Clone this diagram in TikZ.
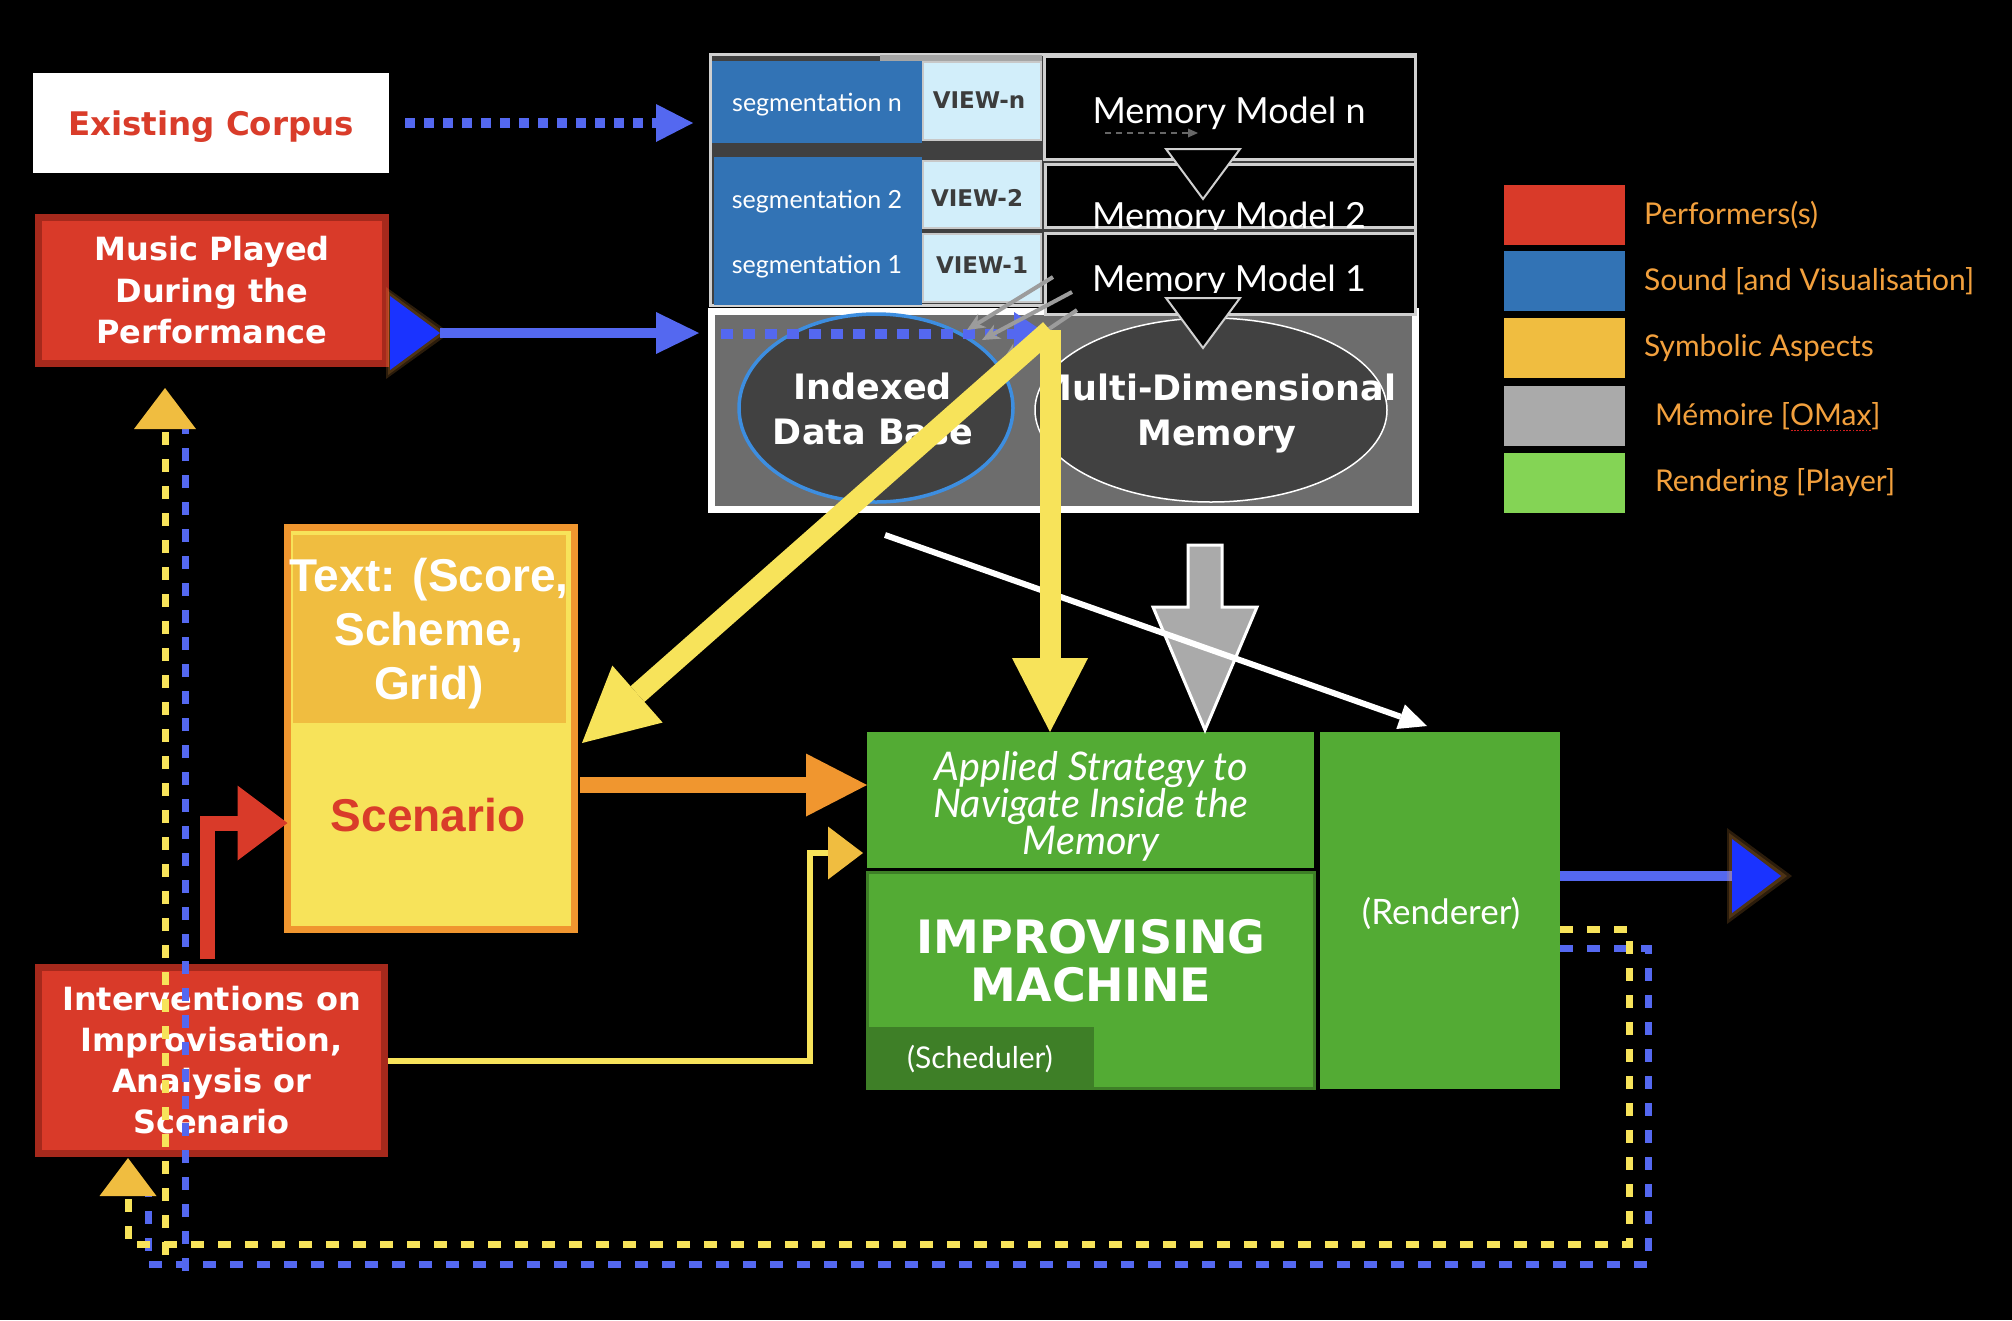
\documentclass[tikz,border=0pt]{standalone}
\usepackage{fontspec}
\setmainfont{Lato}
\newfontfamily\dvb{DejaVu Sans}
\newfontfamily\arl{Liberation Sans}
\usetikzlibrary{arrows.meta,shapes.geometric}
\definecolor{perfred}{HTML}{D93A29}
\definecolor{perfdark}{HTML}{A6291C}
\definecolor{corpusred}{HTML}{D93C2A}
\definecolor{soundblue}{HTML}{3273B5}
\definecolor{viewblue}{HTML}{D2EEFA}
\definecolor{viewborder}{HTML}{C8C8C8}
\definecolor{viewgray}{HTML}{3C3C3C}
\definecolor{symgold}{HTML}{F0BD40}
\definecolor{symyellow}{HTML}{F7E35A}
\definecolor{memgray}{HTML}{AAAAAA}
\definecolor{boxgray}{HTML}{6D6D6D}
\definecolor{ellgray}{HTML}{414141}
\definecolor{ellblue}{HTML}{3D8EE0}
\definecolor{rendgreen}{HTML}{84D455}
\definecolor{boxgreen}{HTML}{53AB34}
\definecolor{darkgreen}{HTML}{3E7F27}
\definecolor{legorange}{HTML}{F2A03D}
\definecolor{arroworange}{HTML}{F0962F}
\definecolor{dashblue}{HTML}{5468F0}
\definecolor{brightblue}{HTML}{1A33FF}
\definecolor{framegray}{HTML}{D0D0D0}
\definecolor{stackdark}{HTML}{404040}
\definecolor{smallgray}{HTML}{9C9C9C}
\definecolor{spellred}{HTML}{D02020}
\definecolor{glow}{HTML}{F0A040}
\newcommand{\spellmark}[1]{\setbox0=\hbox{#1}\rlap{\raisebox{-6pt}[0pt][0pt]{\hbox to \wd0{\color{spellred}\xleaders\hbox to 3.2pt{\hss\rule{1.6pt}{1.6pt}\hss}\hfill}}}\box0}
\begin{document}
\begin{tikzpicture}[x=1pt,y=-1pt,
  every node/.style={inner sep=0pt,outer sep=0pt},
  perfbox/.style={fill=perfred, draw=perfdark, line width=7pt, text=white, align=center,
    font=\dvb\bfseries\fontsize{32}{41.5}\selectfont},
  legbox/.style={minimum width=121pt, minimum height=60pt},
  legtext/.style={anchor=west, text=legorange, font=\fontsize{30}{36}\selectfont},
  segbox/.style={fill=soundblue, anchor=north west},
  segtext/.style={anchor=base, text=white, font=\fontsize{25}{30}\selectfont},
  viewbox/.style={fill=viewblue, draw=viewborder, line width=2pt, anchor=north west, minimum width=118pt},
  viewtext/.style={anchor=base, text=viewgray, font=\dvb\bfseries\fontsize{23}{28}\selectfont},
  mmbox/.style={fill=black, draw=framegray, line width=3pt, anchor=north west},
  mmtext/.style={anchor=base, text=white, font=\fontsize{36}{40}\selectfont},
  downtri/.style={fill=black, draw=framegray, line width=2pt, line join=miter},
  elltext/.style={text=white, align=center, font=\dvb\bfseries\fontsize{35}{45}\selectfont},
  yarrow/.style={draw=symyellow, line width=21pt, -{Triangle[length=74pt,width=76pt,line width=0pt]}},
  ydash/.style={draw=symyellow, line width=7pt, dash pattern=on 13pt off 14pt, line join=miter},
  bdash/.style={draw=dashblue, line width=7pt, dash pattern=on 13pt off 14pt, line join=miter},
  bdots/.style={draw=dashblue, line width=10pt, dash pattern=on 10pt off 9pt},
  graytip/.style={draw=smallgray, line width=4pt, -{Stealth[length=18pt,width=16pt,line width=0pt]}},
  halo/.style={fill=glow, opacity=0.18}
]
\fill[black] (0,0) rectangle (2012,1320);
\useasboundingbox (0,0) rectangle (2012,1320);

% ---------- performer boxes ----------
\node[fill=white, minimum width=356pt, minimum height=100pt, text=corpusred,
  font=\dvb\bfseries\fontsize{32.5}{36}\selectfont] (corpus) at (211,123) {\raisebox{-12pt}[0pt][0pt]{Existing Corpus}};
\node[perfbox, minimum width=347pt, minimum height=146pt] (music) at (212,290.5)
  {Music Played\\During the\\Performance};
\node[perfbox, font=\dvb\bfseries\fontsize{32}{41}\selectfont, minimum width=346pt, minimum height=186pt]
  (interv) at (211.5,1060.5) {Interventions on\\Improvisation,\\Analysis or\\Scenario};

% ---------- legend ----------
\node[legbox, fill=perfred] (lg1) at (1564.5,215) {};
\node[legbox, fill=soundblue] (lg2) at (1564.5,281) {};
\node[legbox, fill=symgold] (lg3) at (1564.5,348) {};
\node[legbox, fill=memgray] (lg4) at (1564.5,416) {};
\node[legbox, fill=rendgreen] (lg5) at (1564.5,483) {};
\node[legtext] (lt1) at (1644,215) {Performers(s)};
\node[legtext] (lt2) at (1644,281) {Sound [and Visualisation]};
\node[legtext] (lt3) at (1644,348) {Symbolic Aspects};
\node[legtext] (lt4) at (1655,416) {Mémoire [\spellmark{OMax}]};
\node[legtext] (lt5) at (1655,483) {Rendering [Player]};

% ---------- memory area (bottom grey box) ----------
\node[fill=boxgray, draw=white, line width=7pt, minimum width=704pt, minimum height=198pt]
  (membox) at (1063.5,410.5) {};
\node[ellipse, fill=ellgray, draw=ellblue, line width=3.5pt, minimum width=274pt, minimum height=188pt]
  (idb) at (876,408) {};
\node[ellipse, fill=ellgray, draw=white, line width=1.5pt, minimum width=352pt, minimum height=184pt]
  (mdm) at (1211,410) {};
\node[elltext] (idbt) at (873,409) {Indexed\\Data Base};
\node[elltext] (mdmt) at (1217,413) {Multi-Dimensional\\Memory};

% ---------- segmentation / memory model stack ----------
\node[fill=stackdark, draw=framegray, line width=3pt, minimum width=705pt, minimum height=251pt]
  (stack) at (1063,180) {};
\fill[framegray!70!stackdark] (880,55) rectangle (1042,61);
\node[segbox, minimum width=210pt, minimum height=82pt] (segn) at (712,61) {};
\node[segbox, minimum width=208pt, minimum height=74pt] (seg2) at (714,157) {};
\node[segbox, minimum width=208pt, minimum height=74pt] (seg1) at (714,231) {};
\node[segtext] at (817,111) {segmentation n};
\node[segtext] at (817,208) {segmentation 2};
\node[segtext] at (817,273) {segmentation 1};
\node[viewbox, minimum height=78pt] (viewn) at (923,62) {};
\node[viewbox, minimum height=67pt] (view2) at (923,161) {};
\node[viewbox, minimum height=68pt] (view1) at (923,234) {};
\node[viewtext] at (979,108) {VIEW-n};
\node[viewtext] at (977,206) {VIEW-2};
\node[viewtext] at (982,273) {VIEW-1};
\node[mmbox, minimum width=371pt, minimum height=103pt] (mmn) at (1044.5,56.5) {};
\node[mmbox, minimum width=370pt, minimum height=63pt] (mm2) at (1045.5,164.5) {};
\node[mmbox, minimum width=370pt, minimum height=81pt] (mm1) at (1045.5,233.5) {};
\node[mmtext] (mmnt) at (1229,123) {Memory Model n};
\begin{scope}
  \clip (1045,165) rectangle (1416,229);
  \node[mmtext] (mm2t) at (1229,228) {Memory Model 2};
\end{scope}
\begin{scope}
  \clip (1045,234) rectangle (1416,292);
  \node[mmtext] (mm1t) at (1229,291) {Memory Model 1};
\end{scope}
\coordinate (mdashA) at (1105,133);
\coordinate (mdashB) at (1198,133);
\draw[draw=stackdark!80!white, line width=2.5pt, dash pattern=on 6pt off 5pt,
  -{Triangle[length=10pt,width=9pt,line width=0pt]}] (mdashA) -- (mdashB);
\filldraw[downtri] (1166,149) -- (1240,149) -- (1203,199) -- cycle;
\filldraw[downtri] (1166,298) -- (1240,298) -- (1203,348) -- cycle;

% ---------- corpus and music inputs ----------
\coordinate (corpusTip) at (693,123);
\draw[bdots, -{Triangle[length=37pt,width=38pt,line width=0pt]}] ([xshift=16pt]corpus.east) -- (corpusTip);
\fill[halo] (386,287) -- (450,333) -- (386,379) -- cycle;
\fill[halo] (388,291) -- (445,333) -- (388,375) -- cycle;
\fill[brightblue] (390,296) -- (440,333) -- (390,370) -- cycle;
\coordinate (musicOut) at (440,333);
\coordinate (musicTip) at (699,333);
\draw[draw=dashblue, line width=10pt, -{Triangle[length=43pt,width=42pt,line width=0pt]}] (musicOut) -- (musicTip);
\coordinate (dotStart) at (721,334);
\coordinate (dotTip) at (1047,334);
\draw[draw=dashblue, line width=10pt, dash pattern=on 12pt off 10pt,
  -{Triangle[length=33pt,width=44pt,line width=0pt]}] (dotStart) -- (dotTip);
\coordinate (g1a) at (1053,277); \coordinate (g1b) at (967,330);
\coordinate (g2a) at (1072,292); \coordinate (g2b) at (982,340);
\coordinate (g3a) at (1077,310); \coordinate (g3b) at (1003,360);
\draw[graytip] (g1a) -- (g1b);
\draw[graytip] (g2a) -- (g2b);
\draw[graytip] (g3a) -- (g3b);

% ---------- text / scenario ----------
\node[fill=symyellow, draw=arroworange, line width=7pt, minimum width=287pt, minimum height=402pt]
  (textbox) at (431,728.5) {};
\fill[symgold] (293,535) rectangle (566,723);
\node[text=white, align=center, font=\arl\bfseries\fontsize{46}{54}\selectfont] (textt) at (429,633.6)
  {Text: (Score,\\Scheme,\\Grid)};
\node[text=corpusred, font=\arl\bfseries\fontsize{46}{54}\selectfont] (scen) at (428,815) {Scenario};

% ---------- improvising machine ----------
\node[fill=boxgreen, minimum width=447pt, minimum height=136pt] (applied) at (1090.5,800) {};
\node[text=white, align=center, font=\itshape\fontsize{39.5}{37}\selectfont] (appliedt) at (1091,806)
  {Applied Strategy to\\Navigate Inside the\\Memory};
\node[fill=boxgreen, draw=darkgreen, line width=3pt, minimum width=447pt, minimum height=216pt]
  (machine) at (1091,980.5) {};
\node[fill=darkgreen, minimum width=225pt, minimum height=60pt] (sched) at (981.5,1057) {};
\node[text=white, font=\fontsize{30}{34}\selectfont] at (980,1059) {(Scheduler)};
\node[text=white, align=center, font=\dvb\bfseries\fontsize{46}{48}\selectfont] (machinet) at (1091,961)
  {IMPROVISING\\MACHINE};
\node[fill=boxgreen, minimum width=240pt, minimum height=357pt] (renderer) at (1440,910.5) {};
\node[text=white, font=\fontsize{35}{38}\selectfont] (renderert) at (1441,913) {(Renderer)};

% ---------- arrows into the machine ----------
\filldraw[fill=memgray, draw=white, line width=3pt, line join=miter]
  (1188,545) -- (1222,545) -- (1222,607) -- (1257,607) -- (1205,730) -- (1153,607) -- (1188,607) -- cycle;
\coordinate (wstart) at (885,535);
\coordinate (wend) at (1427,726);
\draw[white, line width=6pt, -{Triangle[length=28pt,width=26pt,line width=0pt]}] (wstart) -- (wend);
\coordinate (ystart) at (1050,330);
\coordinate (ydiag) at (582,743);
\draw[yarrow] (ystart) -- (ystart |- applied.north);
\draw[yarrow] (ystart) -- (ydiag);
\coordinate (orangeY) at (700,785);
\draw[draw=arroworange, line width=16pt, -{Triangle[length=61pt,width=63pt,line width=0pt]}]
  ([xshift=5.5pt]orangeY -| textbox.east) -- (orangeY -| applied.west);
\coordinate (ybend) at (810,853);
\draw[draw=symyellow, line width=6pt, line join=miter,
  -{Triangle[length=35pt,width=53pt,line width=0pt,color=symgold]}]
  ([xshift=3.5pt]interv.east) -| (ybend) -- ([xshift=-4pt]ybend -| applied.west);
\coordinate (redx) at (207.5,823);
\draw[draw=perfred, line width=15pt, line join=miter, -{Triangle[length=50pt,width=75pt,line width=0pt]}]
  ([yshift=8.5pt]redx |- interv.north) -- (redx) -- (redx -| textbox.west);

% ---------- output ----------
\coordinate (outA) at (1560,876);
\coordinate (outB) at (1732,876);
\draw[draw=dashblue, line width=10pt] (outA) -- (outB);
\fill[halo] (1727,828) -- (1792,876) -- (1727,924) -- cycle;
\fill[halo] (1729,833) -- (1787,876) -- (1729,919) -- cycle;
\fill[brightblue] (1732,839) -- (1781,876) -- (1732,913) -- cycle;

% ---------- feedback loops ----------
\coordinate (yTR) at (1629,929);
\coordinate (yBR) at (1629,1244);
\coordinate (yBL) at (128,1244);
\coordinate (ytipB) at (128,1158);
\coordinate (yInS) at (165,1255);
\coordinate (ytipT) at (165,388);
\coordinate (bTR) at (1648,948);
\coordinate (bBR) at (1648,1264);
\coordinate (bBL) at (148,1264);
\coordinate (bEnd) at (148,1190);
\coordinate (bInS) at (185,1271);
\coordinate (bInE) at (185,408);
\draw[bdash] (bTR -| renderer.east) -- (bTR) -- (bBR) -- (bBL) -- (bEnd);
\draw[bdash] (bInS) -- (bInE);
\draw[ydash, -{Triangle[length=38pt,width=57pt,line width=0pt,color=symgold]}]
  (yTR -| renderer.east) -- (yTR) -- (yBR) -- (yBL) -- (ytipB);
\draw[ydash, -{Triangle[length=41pt,width=62pt,line width=0pt,color=symgold]}] (yInS) -- (ytipT);
\end{tikzpicture}
\end{document}
